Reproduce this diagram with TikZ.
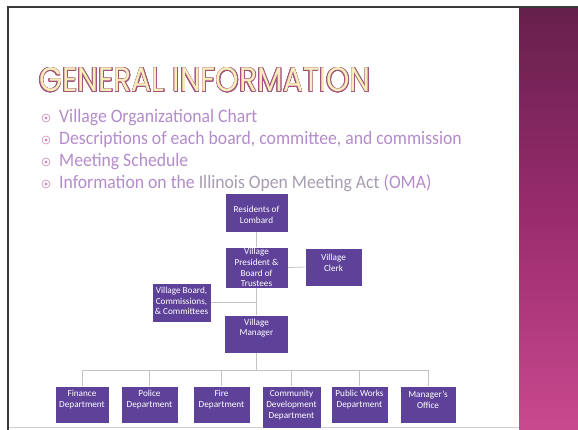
\documentclass[tikz,border=0pt]{standalone}
\usepackage{fontspec}
\usepackage{contour}
\setmainfont{Carlito}
\newfontfamily\titlefont[FakeStretch=0.875]{Poppins}
\newfontfamily\bodyfont[FakeStretch=0.93]{Carlito}
\definecolor{boxfill}{HTML}{5E4299}
\definecolor{conncol}{HTML}{C4C4C4}
\definecolor{bullettext}{HTML}{B48CCB}
\definecolor{bulletgray}{HTML}{A89CB0}
\definecolor{bulletmark}{HTML}{D28AB8}
\definecolor{titlefill}{HTML}{F6EDB8}
\definecolor{titleline}{HTML}{A4527F}
\definecolor{striptop}{HTML}{66204C}
\definecolor{stripmid}{HTML}{9A2C6E}
\definecolor{stripbot}{HTML}{C9498E}
\definecolor{framecol}{HTML}{3A3A3A}
\contourlength{0.7pt}
\tikzset{
  orgbox/.style={fill=boxfill, draw=white, line width=0.4pt, inner sep=0pt},
  boxtext/.style={text=white, font=\fontsize{9.2}{10.8}\selectfont, align=center, inner sep=0pt},
  conn/.style={draw=conncol, line width=0.8pt},
  bulletline/.style={anchor=base west, inner sep=0pt, text=bullettext, font=\bodyfont\fontsize{19}{21}\selectfont},
  bulletmk/.style={circle, draw=bulletmark, line width=0.6pt, minimum size=8pt, inner sep=0pt}
}
\begin{document}
\begin{tikzpicture}[x=1pt,y=-1pt]
\useasboundingbox (0,0) rectangle (578,430);
\fill[white] (0,0) rectangle (578,430);
% strip
\shade[top color=striptop, bottom color=stripbot, middle color=stripmid] (519,8) rectangle (578,430);
% frame lines
\draw[framecol, line width=1.6pt] (8,430) -- (8,7) -- (578,7);
\draw[conncol!80, line width=0.8pt] (9,427) -- (519,427);
% title
\node[anchor=base west, inner sep=0pt] (title) at (39,92)
  {\titlefont\fontsize{34}{36}\selectfont\contour{titleline}{\color{titlefill}GENERAL INFORMATION}};
% bullets
\foreach \i/\yy in {1/123,2/145,3/167,4/189} {
  \node[bulletmk] (bm\i) at (46,\yy-5) {};
  \fill[bulletmark] (bm\i.center) circle (1.6pt);
}
\node[bulletline] (b1) at (59,123) {Village Organizational Chart};
\node[bulletline] (b2) at (59,145) {Descriptions of each board, committee, and commission};
\node[bulletline] (b3) at (59,167) {Meeting Schedule};
\node[bulletline] (b4) at (59,189) {Information on the \textcolor{bulletgray}{Illinois Open Meeting Act} (OMA)};
% org chart boxes
\node[orgbox, minimum width=63pt, minimum height=39pt] (res) at (256.5,212.5) {};
\node[orgbox, minimum width=63pt, minimum height=41pt] (pres) at (256.5,267.5) {};
\node[orgbox, minimum width=57pt, minimum height=38pt] (clerk) at (333.5,267) {};
\node[orgbox, minimum width=59pt, minimum height=39pt] (board) at (181.5,302.5) {};
\node[orgbox, minimum width=64pt, minimum height=38pt] (mgr) at (256.5,334) {};
\node[orgbox, minimum width=54pt, minimum height=37pt] (fin) at (82,404.5) {};
\node[orgbox, minimum width=57pt, minimum height=37pt] (pol) at (149.5,404.5) {};
\node[orgbox, minimum width=57pt, minimum height=37pt] (fire) at (221.5,404.5) {};
\node[orgbox, minimum width=59pt, minimum height=42pt] (com) at (291.5,407) {};
\node[orgbox, minimum width=57pt, minimum height=37pt] (pw) at (359.5,404.5) {};
\node[orgbox, minimum width=56pt, minimum height=37pt] (mo) at (428,404.5) {};
% box texts
\node[boxtext] (res-t) at ([yshift=-2pt]res.center) {Residents of\\Lombard};
\node[boxtext] (pres-t) at (pres.center) {Village\\President \&\\Board of\\Trustees};
\node[boxtext] (clerk-t) at ([yshift=4.5pt]clerk.center) {Village\\Clerk};
\node[boxtext] (board-t) at ([yshift=1.5pt]board.center) {Village Board,\\Commissions,\\\& Committees};
\node[boxtext] (mgr-t) at ([yshift=6pt]mgr.center) {Village\\Manager};
\node[boxtext] (fin-t) at ([yshift=5pt]fin.center) {Finance\\Department};
\node[boxtext] (pol-t) at ([yshift=5pt]pol.center) {Police\\Department};
\node[boxtext] (fire-t) at ([yshift=5pt]fire.center) {Fire\\Department};
\node[boxtext] (com-t) at ([yshift=2pt]com.center) {Community\\Development\\Department};
\node[boxtext] (pw-t) at ([yshift=5pt]pw.center) {Public Works\\Department};
\node[boxtext] (mo-t) at ([yshift=5pt]mo.center) {Manager's\\Office};
% connectors
\draw[conn] (res.south) -- (pres.north);
\draw[conn] (pres.south) -- (mgr.north);
\draw[conn] (pres.east) -- (clerk.west);
\draw[conn] (board.east) -- (board.east -| pres.south);
\coordinate (bus) at (256.5,370);
\draw[conn] (mgr.south) -- (bus);
\foreach \n in {fin,pol,fire,com,pw,mo} {
  \draw[conn] (bus) -| (\n.north);
}
\end{tikzpicture}
\end{document}
